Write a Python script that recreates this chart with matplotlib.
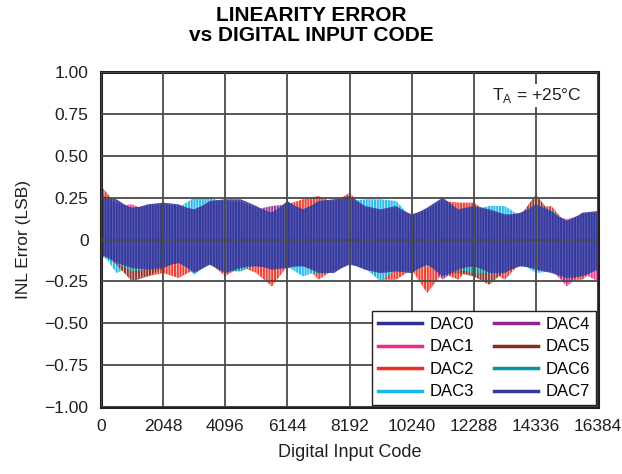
import numpy as np
import matplotlib
matplotlib.use("Agg")
import matplotlib.pyplot as plt
from matplotlib.lines import Line2D

plt.rcParams['font.family'] = ['Liberation Sans', 'DejaVu Sans']
plt.rcParams['hatch.linewidth'] = 0.5

# envelope of INL error read every 512 codes (0 ... 16384)
step = 512
dac_names = ["DAC0", "DAC1", "DAC2", "DAC3", "DAC4", "DAC5", "DAC6", "DAC7"]
dac_colors = ["#2e3192", "#ec2b8c", "#ee3124", "#1ab7ea", "#92278f", "#8b2a1f", "#00969b", "#363a9c"]

dac0_hi = [0.24, 0.22, 0.19, 0.20, 0.21, 0.20, 0.18, 0.22, 0.23, 0.22, 0.19, 0.16, 0.22, 0.18, 0.22, 0.23, 0.25,
           0.19, 0.17, 0.19, 0.15, 0.18, 0.24, 0.17, 0.19, 0.17, 0.14, 0.16, 0.20, 0.16, 0.11, 0.15, 0.16]
dac0_lo = [-0.09, -0.13, -0.16, -0.17, -0.16, -0.14, -0.19, -0.14, -0.19, -0.16, -0.16, -0.17, -0.16, -0.16, -0.19, -0.19, -0.15,
           -0.17, -0.19, -0.18, -0.19, -0.15, -0.21, -0.17, -0.16, -0.19, -0.19, -0.16, -0.17, -0.19, -0.22, -0.21, -0.17]
dac1_hi = [0.30, 0.20, 0.21, 0.17, 0.18, 0.17, 0.15, 0.19, 0.20, 0.20, 0.17, 0.13, 0.19, 0.15, 0.20, 0.20, 0.22,
           0.17, 0.15, 0.17, 0.12, 0.16, 0.21, 0.15, 0.17, 0.15, 0.13, 0.13, 0.18, 0.15, 0.09, 0.14, 0.15]
dac1_lo = [-0.07, -0.12, -0.15, -0.16, -0.15, -0.12, -0.17, -0.13, -0.17, -0.15, -0.13, -0.16, -0.15, -0.13, -0.17, -0.17, -0.12,
           -0.16, -0.17, -0.17, -0.17, -0.12, -0.19, -0.16, -0.13, -0.18, -0.18, -0.13, -0.16, -0.18, -0.28, -0.20, -0.25]
dac2_hi = [0.32, 0.21, 0.16, 0.19, 0.20, 0.19, 0.15, 0.21, 0.22, 0.22, 0.18, 0.14, 0.21, 0.24, 0.26, 0.22, 0.28,
           0.18, 0.16, 0.18, 0.13, 0.17, 0.23, 0.22, 0.22, 0.16, 0.14, 0.13, 0.19, 0.20, 0.09, 0.16, 0.15]
dac2_lo = [-0.07, -0.12, -0.19, -0.22, -0.20, -0.23, -0.18, -0.14, -0.22, -0.16, -0.20, -0.28, -0.16, -0.14, -0.24, -0.18, -0.13,
           -0.17, -0.24, -0.24, -0.18, -0.32, -0.20, -0.24, -0.14, -0.18, -0.24, -0.14, -0.17, -0.18, -0.24, -0.24, -0.16]
dac3_hi = [0.22, 0.20, 0.17, 0.19, 0.20, 0.19, 0.25, 0.25, 0.22, 0.21, 0.18, 0.14, 0.20, 0.16, 0.21, 0.22, 0.23,
           0.24, 0.24, 0.23, 0.13, 0.17, 0.22, 0.16, 0.18, 0.20, 0.20, 0.14, 0.19, 0.15, 0.09, 0.15, 0.15]
dac3_lo = [-0.07, -0.20, -0.16, -0.17, -0.16, -0.12, -0.21, -0.14, -0.18, -0.16, -0.14, -0.17, -0.16, -0.22, -0.19, -0.19, -0.13,
           -0.17, -0.25, -0.18, -0.19, -0.13, -0.20, -0.17, -0.14, -0.19, -0.19, -0.14, -0.20, -0.19, -0.21, -0.20, -0.17]
dac4_hi = [0.27, 0.21, 0.17, 0.19, 0.20, 0.19, 0.16, 0.21, 0.22, 0.22, 0.18, 0.20, 0.21, 0.16, 0.21, 0.23, 0.24,
           0.18, 0.16, 0.18, 0.13, 0.17, 0.22, 0.16, 0.18, 0.16, 0.14, 0.14, 0.19, 0.15, 0.12, 0.15, 0.16]
dac4_lo = [-0.07, -0.12, -0.16, -0.16, -0.15, -0.12, -0.18, -0.14, -0.18, -0.16, -0.14, -0.16, -0.16, -0.14, -0.18, -0.18, -0.13,
           -0.16, -0.18, -0.18, -0.18, -0.13, -0.24, -0.17, -0.14, -0.18, -0.18, -0.14, -0.17, -0.18, -0.26, -0.20, -0.17]
dac5_hi = [0.25, 0.20, 0.17, 0.19, 0.20, 0.18, 0.15, 0.20, 0.21, 0.21, 0.17, 0.14, 0.20, 0.16, 0.21, 0.22, 0.23,
           0.18, 0.16, 0.18, 0.13, 0.17, 0.22, 0.17, 0.19, 0.16, 0.14, 0.14, 0.27, 0.15, 0.09, 0.15, 0.15]
dac5_lo = [-0.07, -0.15, -0.25, -0.22, -0.17, -0.13, -0.19, -0.14, -0.19, -0.16, -0.15, -0.17, -0.16, -0.14, -0.19, -0.19, -0.13,
           -0.17, -0.19, -0.18, -0.19, -0.13, -0.21, -0.20, -0.22, -0.27, -0.19, -0.14, -0.17, -0.19, -0.22, -0.21, -0.17]
dac6_hi = [0.24, 0.21, 0.17, 0.19, 0.20, 0.19, 0.16, 0.21, 0.22, 0.22, 0.18, 0.14, 0.21, 0.16, 0.21, 0.22, 0.24,
           0.18, 0.16, 0.18, 0.13, 0.17, 0.22, 0.17, 0.18, 0.18, 0.14, 0.14, 0.19, 0.18, 0.09, 0.15, 0.15]
dac6_lo = [-0.10, -0.14, -0.19, -0.18, -0.16, -0.13, -0.19, -0.15, -0.19, -0.19, -0.15, -0.17, -0.17, -0.15, -0.21, -0.19, -0.14,
           -0.18, -0.20, -0.19, -0.20, -0.15, -0.21, -0.18, -0.20, -0.20, -0.19, -0.15, -0.17, -0.19, -0.22, -0.21, -0.17]
dac7_hi = [0.26, 0.24, 0.18, 0.21, 0.22, 0.21, 0.17, 0.23, 0.24, 0.24, 0.20, 0.15, 0.23, 0.17, 0.23, 0.24, 0.26,
           0.20, 0.18, 0.20, 0.14, 0.19, 0.25, 0.18, 0.20, 0.18, 0.15, 0.15, 0.21, 0.17, 0.10, 0.16, 0.17]
dac7_lo = [-0.08, -0.14, -0.17, -0.18, -0.17, -0.13, -0.20, -0.15, -0.20, -0.17, -0.15, -0.18, -0.17, -0.15, -0.20, -0.20, -0.14,
           -0.18, -0.20, -0.19, -0.20, -0.14, -0.22, -0.18, -0.15, -0.20, -0.20, -0.15, -0.18, -0.20, -0.23, -0.22, -0.18]

his = [dac0_hi, dac1_hi, dac2_hi, dac3_hi, dac4_hi, dac5_hi, dac6_hi, dac7_hi]
los = [dac0_lo, dac1_lo, dac2_lo, dac3_lo, dac4_lo, dac5_lo, dac6_lo, dac7_lo]

xticks = [0, 2048, 4096, 6144, 8192, 10240, 12288, 14336, 16384]
yticks = [-1.0, -0.75, -0.5, -0.25, 0, 0.25, 0.5, 0.75, 1.0]
ylabels = ["\u22121.00", "\u22120.75", "\u22120.50", "\u22120.25", "0", "0.25", "0.50", "0.75", "1.00"]

fig = plt.figure(figsize=(6.22, 4.74), dpi=100)
ax = fig.add_axes([0.1624, 0.1414, 0.799, 0.7066])

codes = np.arange(len(dac0_hi)) * step
# other DACs first, the two navy ones on top; fine vertical hatch gives the striped look
order = [1, 2, 3, 4, 5, 6, 0, 7]
for k in order:
    hc = "#6d6fc0" if k in (0, 7) else "#ffffff"
    ax.fill_between(codes, los[k], his[k], facecolor=dac_colors[k], edgecolor=hc,
                    hatch="||||||", lw=0, alpha=0.92, zorder=1)

ax.set_xlim(0, 16384)
ax.set_ylim(-1, 1)
ax.set_xticks(xticks)
ax.set_yticks(yticks)
ax.set_yticklabels(ylabels)
ax.tick_params(length=0, labelsize=12.5, colors="#231f20", pad=9)
ax.grid(True, color="#4a4a4a", lw=1.3, zorder=2)
ax.set_axisbelow(False)
for s in ax.spines.values():
    s.set_linewidth(2.2)
    s.set_color("#231f20")

ax.set_xlabel("Digital Input Code", fontsize=13, color="#231f20", labelpad=7)
ax.set_ylabel("INL Error (LSB)", fontsize=12.5, color="#231f20", labelpad=10)
fig.text(0.5, 0.988, "LINEARITY ERROR\nvs DIGITAL INPUT CODE", ha="center", va="top",
         fontsize=15, fontweight="bold", linespacing=1.1)
ax.text(0.967, 0.93, "T$_\\mathregular{A}$ = +25\u00b0C", transform=ax.transAxes, ha="right", va="center",
        fontsize=12.5, color="#231f20", bbox=dict(facecolor="white", edgecolor="none", pad=1.5), zorder=5)

handles = [Line2D([0], [0], color=c, lw=2.5) for c in dac_colors]
leg = ax.legend(handles, dac_names, ncol=2, loc="lower right", fontsize=12, frameon=True, fancybox=False,
                borderaxespad=0.1, handlelength=2.6, handletextpad=0.5, columnspacing=1.2,
                labelspacing=0.45, borderpad=0.35)
leg.get_frame().set_edgecolor("#231f20")
leg.get_frame().set_linewidth(1.0)
leg.get_frame().set_alpha(1)
leg.set_zorder(6)

fig.savefig("out.png", dpi=100)
